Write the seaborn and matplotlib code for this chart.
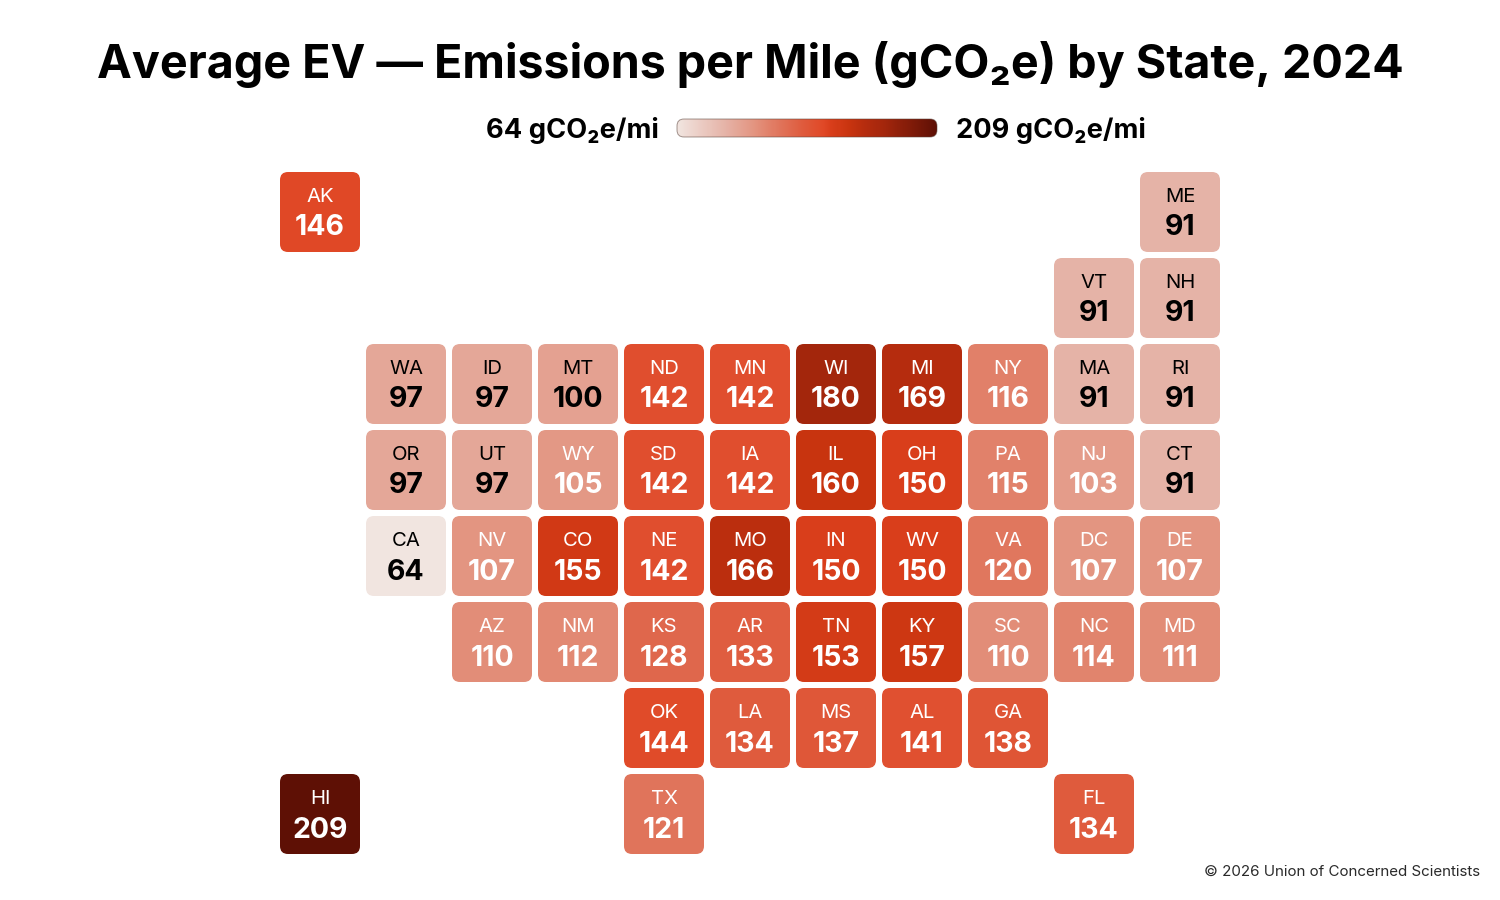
import numpy as np
import pandas as pd
import seaborn as sns
import matplotlib
matplotlib.use("Agg")
import matplotlib.pyplot as plt
from matplotlib.colors import LinearSegmentedColormap
from matplotlib.patches import FancyBboxPatch, PathPatch
from matplotlib.path import Path

# ---- data ----
TITLE = "Average EV — Emissions per Mile (gCO₂e) by State, 2024"
UNIT = "gCO₂e/mi"
CREDIT = "© 2026 Union of Concerned Scientists"
STATES = ["AK", "ME", "VT", "NH",
          "WA", "ID", "MT", "ND", "MN", "WI", "MI", "NY", "MA", "RI",
          "OR", "UT", "WY", "SD", "IA", "IL", "OH", "PA", "NJ", "CT",
          "CA", "NV", "CO", "NE", "MO", "IN", "WV", "VA", "DC", "DE",
          "AZ", "NM", "KS", "AR", "TN", "KY", "SC", "NC", "MD",
          "OK", "LA", "MS", "AL", "GA",
          "HI", "TX", "FL"]
EMISSIONS = [146, 91, 91, 91,
             97, 97, 100, 142, 142, 180, 169, 116, 91, 91,
             97, 97, 105, 142, 142, 160, 150, 115, 103, 91,
             64, 107, 155, 142, 166, 150, 150, 120, 107, 107,
             110, 112, 128, 133, 153, 157, 110, 114, 111,
             144, 134, 137, 141, 138,
             209, 121, 134]
# tile-grid map: one string per map row, "--" = empty cell
TILE_MAP = ["AK -- -- -- -- -- -- -- -- -- ME",
            "-- -- -- -- -- -- -- -- -- VT NH",
            "-- WA ID MT ND MN WI MI NY MA RI",
            "-- OR UT WY SD IA IL OH PA NJ CT",
            "-- CA NV CO NE MO IN WV VA DC DE",
            "-- -- AZ NM KS AR TN KY SC NC MD",
            "-- -- -- -- OK LA MS AL GA -- --",
            "HI -- -- -- TX -- -- -- -- FL --"]

# ---- styling ----
FONT = ["Inter", "DejaVu Sans"]
plt.rcParams["font.family"] = FONT
VMIN, VMAX = min(EMISSIONS), max(EMISSIONS)
anchors = [(64, "#F1E5E0"), (91, "#E5B2A6"), (107, "#E39480"), (121, "#E0745B"),
           (134, "#DF5B3D"), (146, "#E04826"), (150, "#D93E1B"), (160, "#C8340F"),
           (169, "#B52C0E"), (180, "#A3260C"), (209, "#5E1005")]
cmap = LinearSegmentedColormap.from_list(
    "ucs", [((v - VMIN) / (VMAX - VMIN), c) for v, c in anchors])

value_of = dict(zip(STATES, EMISSIONS))
codes = [row.split() for row in TILE_MAP]
grid = pd.DataFrame([[value_of.get(c, np.nan) for c in row] for row in codes], dtype=float)

W, H = 1500, 900
fig = plt.figure(figsize=(15, 9), dpi=100, facecolor="white")
PITCH = 86
ax = fig.add_axes([277 / W, 1 - 857 / H, 946 / W, 688 / H])
sns.heatmap(grid, ax=ax, cmap=cmap, vmin=VMIN, vmax=VMAX, cbar=False,
            xticklabels=False, yticklabels=False, square=False)
ax.set_xlabel(""); ax.set_ylabel("")
ax.set_axis_off()

# round the heatmap's cells: clip the mesh to one rounded box per tile
inset = 3 / PITCH
side = 80 / PITCH
radius = 8 / PITCH
boxes = []
for r, row in enumerate(codes):
    for c, code in enumerate(row):
        if code not in value_of:
            continue
        val = value_of[code]
        box = FancyBboxPatch((c + inset + radius, r + inset + radius),
                             side - 2 * radius, side - 2 * radius,
                             boxstyle=f"round,pad={radius},rounding_size={radius}")
        boxes.append(box.get_path().deepcopy())
        colour = "black" if val <= 100 else "white"
        ax.text(c + 0.5, r + (25 + 3) / PITCH, code, ha="center", va="center",
                fontsize=14.6, color=colour, fontweight="normal")
        ax.text(c + 0.5, r + (56 + 3) / PITCH, f"{val}", ha="center", va="center",
                fontsize=20.5, color=colour, fontweight="bold")
mesh = ax.collections[0]
clip = PathPatch(Path.make_compound_path(*boxes), transform=ax.transData,
                 facecolor="none", edgecolor="none")
ax.add_patch(clip)
mesh.set_clip_path(clip)
mesh.set_antialiased(True)

# title
fig.text(750 / W, 1 - 64 / H, TITLE, ha="center", va="center",
         fontsize=33.6, fontweight="bold", color="black")

# legend gradient bar
cax = fig.add_axes([677 / W, 1 - 137 / H, 260 / W, 18 / H])
ramp = pd.DataFrame([np.linspace(VMIN, VMAX, 256)])
sns.heatmap(ramp, ax=cax, cmap=cmap, vmin=VMIN, vmax=VMAX, cbar=False,
            xticklabels=False, yticklabels=False)
cax.set_xlabel(""); cax.set_ylabel("")
cax.set_axis_off()
rx = 7 * 256 / 260
ry = 7 / 18
bar = FancyBboxPatch((rx, ry), 256 - 2 * rx, 1 - 2 * ry,
                     boxstyle=f"round,pad={rx},rounding_size={rx}",
                     mutation_aspect=ry / rx, transform=cax.transData,
                     facecolor="none", edgecolor=(0.35, 0.25, 0.22, 0.55),
                     linewidth=0.7, clip_on=False)
cax.add_patch(bar)
cax.collections[0].set_clip_path(bar)
cax.collections[0].set_antialiased(True)

fig.text(659 / W, 1 - 131 / H, f"{VMIN} {UNIT}", ha="right", va="center",
         fontsize=19.6, fontweight="bold", color="black")
fig.text(956 / W, 1 - 131 / H, f"{VMAX} {UNIT}", ha="left", va="center",
         fontsize=19.6, fontweight="bold", color="black")
fig.text(1480 / W, 1 - 872 / H, CREDIT, ha="right", va="center",
         fontsize=10.9, color="#2a2a2a")

fig.savefig("out.png", dpi=100, facecolor="white")
